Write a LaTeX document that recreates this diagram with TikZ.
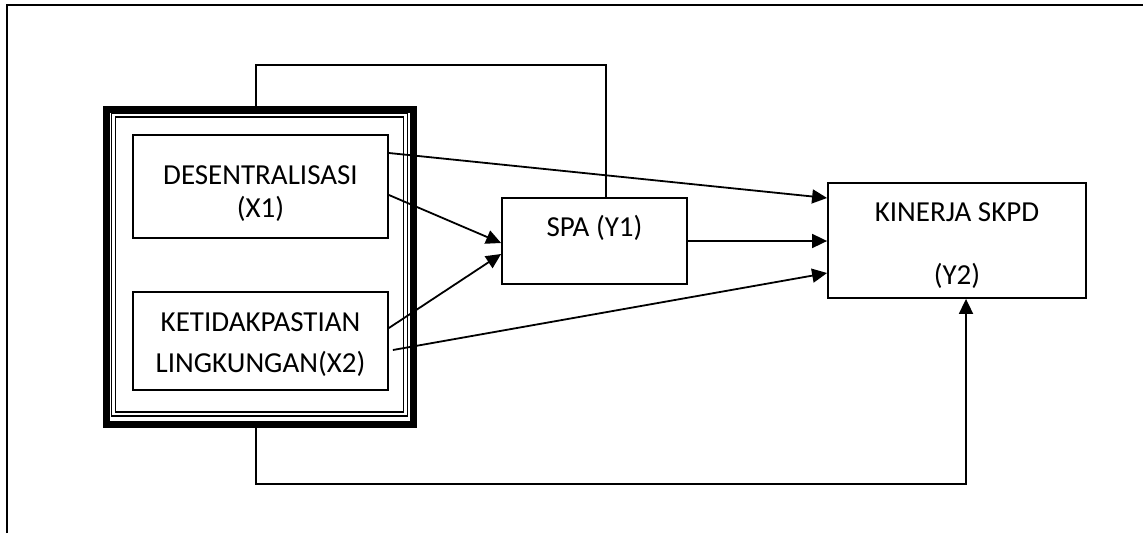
\documentclass[tikz,border=0pt]{standalone}
\usepackage{fontspec}
\setmainfont{Carlito}
\usetikzlibrary{arrows.meta}

\tikzset{
  varbox/.style={draw, line width=1.8pt, align=center, inner sep=0pt,
    font=\fontsize{29}{33}\selectfont},
  lbl/.style={inner sep=0pt, font=\fontsize{29}{33}\selectfont},
  link/.style={line width=1.8pt},
  arr/.style={link, -{Triangle[length=15pt,width=14pt]}}
}

\begin{document}
\begin{tikzpicture}[x=1pt,y=-1pt]
  \useasboundingbox (0,0) rectangle (1143,533);

  % page frame (top and left edges)
  \draw[line width=1.8pt] (7,533) |- (1143,5);

  % group frame: thick outer border with a double inner rule
  \node[draw, line width=6.5pt, minimum width=307pt, minimum height=315pt,
        inner sep=0pt] (grp) at (260,267) {};
  \node[draw, line width=1.5pt, double, double distance=2.5pt,
        minimum width=292pt, minimum height=299pt, inner sep=0pt]
        (grpin) at (259.5,264.6) {};

  % variables
  \node[varbox, minimum width=255pt, minimum height=103pt,
        text height=68pt, text depth=7pt] (x1) at (260.5,186.5)
    {DESENTRALISASI\\(X1)};
  \node[varbox, minimum width=255pt, minimum height=98pt,
        text height=69pt, text depth=7pt] (x2) at (260.5,341)
    {KETIDAKPASTIAN\\[8pt]LINGKUNGAN(X2)};
  \node[varbox, minimum width=185pt, minimum height=86pt] (spa) at (594.5,241) {};
  \node[lbl] (spatext) at ([yshift=-31pt]spa.north) {SPA (Y1)};
  \node[varbox, minimum width=258pt, minimum height=115pt,
        text height=94pt, text depth=7pt] (kin) at (957,240.5)
    {KINERJA SKPD\\[30pt](Y2)};

  % direct paths
  \draw[arr] ([yshift=33.5pt]x1.east) -- ([yshift=42.5pt]kin.west);
  \draw[arr] ([yshift=-8.5pt]x1.east) -- ([yshift=-2pt]spa.west);
  \draw[arr] ([yshift=13pt]x2.east) -- ([yshift=-13pt]spa.west);
  \draw[arr] ([xshift=4pt,yshift=-9pt]x2.east) -- ([yshift=-32.5pt]kin.west);
  \draw[arr] (spa.east) -- (spa.east -| kin.west);

  % group to SPA (top loop) and group to performance (bottom loop)
  \draw[link] ([xshift=-4pt]grp.north) -- ++(0,-41) -| ([xshift=11.5pt]spa.north);
  \draw[arr] ([xshift=-4pt]grp.south) -- ++(0,56) -| ([xshift=9pt]kin.south);
\end{tikzpicture}
\end{document}
